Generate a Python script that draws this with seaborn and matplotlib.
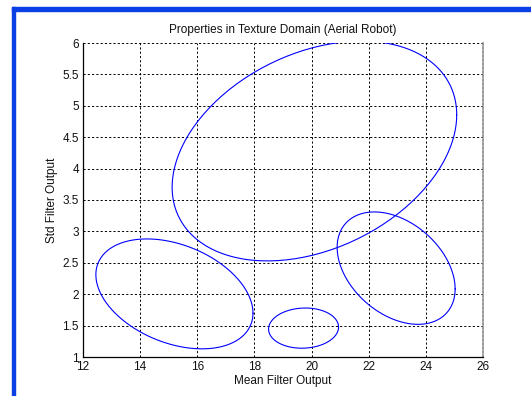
import numpy as np
import pandas as pd
import matplotlib
matplotlib.use("Agg")
import matplotlib.pyplot as plt
import seaborn as sns
from matplotlib.patches import Rectangle

# Ellipse parameters (centre, half-width, half-height, x-y coupling)
cluster = ["A", "B", "C", "D"]
center_x = [20.1, 15.2, 22.96, 19.72]
center_y = [4.28, 2.005, 2.415, 1.46]
half_w = [4.98, 2.75, 2.065, 1.225]
half_h = [1.75, 0.875, 0.895, 0.32]
coupling = [0.33, -0.35, -0.37, 0.05]

x_ticks = [12, 14, 16, 18, 20, 22, 24, 26]
y_ticks = [1, 1.5, 2, 2.5, 3, 3.5, 4, 4.5, 5, 5.5, 6]
y_tick_labels = ["1", "1.5", "2", "2.5", "3", "3.5", "4", "4.5", "5", "5.5", "6"]

t = np.linspace(0, 2 * np.pi, 200)
rows = []
for c, cx, cy, a, b, r in zip(cluster, center_x, center_y, half_w, half_h, coupling):
    xs = cx + a * np.cos(t)
    ys = cy + b * (r * np.cos(t) + np.sqrt(1 - r * r) * np.sin(t))
    rows.append(pd.DataFrame({"x": xs, "y": ys, "id": c, "order": np.arange(len(t))}))
df = pd.concat(rows, ignore_index=True)

sns.set_style("white")
plt.rcParams["font.family"] = ["Liberation Sans", "DejaVu Sans"]

fig = plt.figure(figsize=(5.31, 3.96), dpi=100)
W, H = 531, 396
ax = fig.add_axes([83 / W, 1 - 357 / H, 400 / W, 314 / H])

sns.lineplot(data=df, x="x", y="y", units="id", estimator=None, sort=False,
             color="#0000ff", linewidth=0.8, ax=ax, legend=False)

ax.set_xlim(12, 26)
ax.set_ylim(1, 6)
ax.set_xticks(x_ticks)
ax.set_xticklabels([str(v) for v in x_ticks])
ax.set_yticks(y_ticks)
ax.set_yticklabels(y_tick_labels)
ax.grid(True, color="black", linestyle=(0, (2.2, 2.2)), linewidth=0.7)
ax.tick_params(direction="in", length=3, width=0.6, labelsize=8.5, pad=3, colors="#111111")
for s in ["left", "bottom"]:
    ax.spines[s].set_color("black")
    ax.spines[s].set_linewidth(0.9)
ax.spines["top"].set_visible(False)
ax.spines["right"].set_color("#888888")
ax.spines["right"].set_linestyle((0, (1.2, 1.2)))
ax.spines["right"].set_linewidth(1.2)
ax.xaxis.get_gridlines()[-1].set_visible(False)

ax.set_title("Properties in Texture Domain (Aerial Robot)", fontsize=8.5, pad=7, color="#111111")
ax.set_xlabel("Mean Filter Output", fontsize=8.5, labelpad=1, color="#111111")
ax.set_ylabel("Std Filter Output", fontsize=8.5, labelpad=3, color="#111111")

# window frame
blue = "#0a3fe6"
fig.patches.append(Rectangle((12 / W, 0), 3 / W, 1 - 7 / H, transform=fig.transFigure,
                             color=blue, zorder=10))
fig.patches.append(Rectangle((12 / W, 1 - 11 / H), 1 - 12 / W, 4 / H, transform=fig.transFigure,
                             color=blue, zorder=10))

fig.savefig("out.png", dpi=100, facecolor="white")
